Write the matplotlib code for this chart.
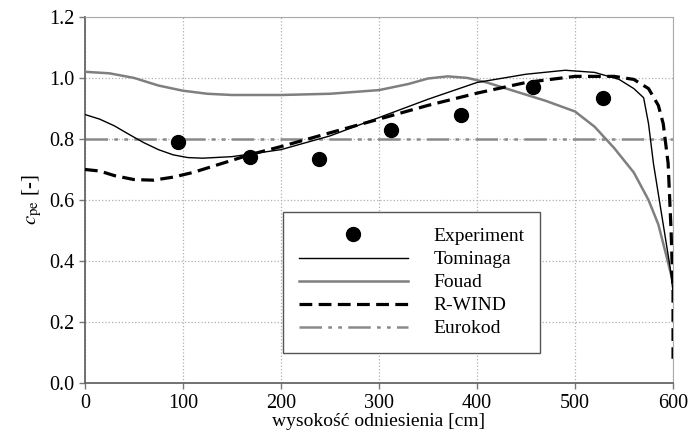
import matplotlib
matplotlib.use("Agg")
import matplotlib.pyplot as plt

plt.rcParams["font.family"] = ["Liberation Serif", "DejaVu Serif"]
plt.rcParams["mathtext.fontset"] = "stix"

# Experiment points
exp_x = [95, 168, 239, 312, 384, 457, 529]
exp_y = [0.79, 0.74, 0.735, 0.83, 0.88, 0.97, 0.935]

# Tominaga
tom_x = [0, 15, 30, 45, 60, 75, 90, 105, 120, 150, 200, 250, 300, 350, 400, 450, 490, 520, 545, 560, 570, 575, 580, 590, 597, 600]
tom_y = [0.88, 0.865, 0.843, 0.815, 0.788, 0.765, 0.748, 0.739, 0.737, 0.742, 0.765, 0.81, 0.87, 0.93, 0.985, 1.012, 1.025, 1.018, 0.995, 0.965, 0.935, 0.85, 0.72, 0.52, 0.38, 0.3]

# Fouad
fou_x = [0, 25, 50, 75, 100, 125, 150, 200, 250, 300, 330, 350, 370, 390, 410, 440, 470, 500, 520, 540, 560, 575, 585, 593, 600]
fou_y = [1.02, 1.015, 1.0, 0.975, 0.958, 0.948, 0.944, 0.944, 0.948, 0.96, 0.98, 0.998, 1.005, 1.0, 0.985, 0.955, 0.925, 0.89, 0.84, 0.77, 0.69, 0.6, 0.52, 0.42, 0.33]

# R-WIND
rw_x = [0, 15, 30, 50, 70, 90, 110, 140, 170, 200, 250, 300, 350, 400, 450, 500, 540, 560, 575, 585, 590, 595, 598, 600, 600]
rw_y = [0.70, 0.695, 0.68, 0.667, 0.665, 0.675, 0.69, 0.72, 0.75, 0.775, 0.82, 0.865, 0.91, 0.95, 0.985, 1.005, 1.005, 0.995, 0.965, 0.91, 0.85, 0.72, 0.5, 0.3, 0.08]

# Eurokod
eu_x = [0, 600]
eu_y = [0.8, 0.8]

fig = plt.figure(figsize=(6.96, 4.43), dpi=100)
ax = fig.add_axes([0.122, 0.135, 0.845, 0.827])

ax.plot(eu_x, eu_y, color="#8a8a8a", lw=1.8, dashes=[9, 2.5, 1.5, 2.5, 1.5, 2.5], label="Eurokod", zorder=2)
ax.plot(fou_x, fou_y, color="#7f7f7f", lw=1.8, label="Fouad", zorder=3)
ax.plot(tom_x, tom_y, color="black", lw=1.0, label="Tominaga", zorder=4)
ax.plot(rw_x, rw_y, color="black", lw=2.3, dashes=[4, 2], label="R-WIND", zorder=5)
ax.plot(exp_x, exp_y, "o", color="black", ms=10, ls="none", label="Experiment", zorder=6)

ax.set_xlim(0, 600)
ax.set_ylim(0, 1.2)
ax.set_xticks(range(0, 601, 100))
ax.set_yticks([0.0, 0.2, 0.4, 0.6, 0.8, 1.0, 1.2])
ax.set_yticklabels([f"{v:.1f}" for v in ax.get_yticks()])
ax.grid(True, ls=":", color="#b0b0b0", lw=0.9)
ax.set_axisbelow(True)
ax.tick_params(labelsize=14.5, length=4, color="#777777", width=1)

for s in ["top", "right"]:
    ax.spines[s].set_color("#aaaaaa")
for s in ["left", "bottom"]:
    ax.spines[s].set_color("#666666")
    ax.spines[s].set_linewidth(1.3)

ax.set_xlabel("wysokość odniesienia [cm]", fontsize=14, labelpad=0.5)
ax.set_ylabel(r"$c_{\rm pe}$ [-]", fontsize=15, labelpad=4)

h, l = ax.get_legend_handles_labels()
order = ["Experiment", "Tominaga", "Fouad", "R-WIND", "Eurokod"]
hh = [h[l.index(n)] for n in order]
leg = ax.legend(hh, order, loc="upper left", bbox_to_anchor=(0.337, 0.467),
                borderaxespad=0, fontsize=14, handlelength=5.6, handletextpad=1.35,
                labelspacing=0.28, borderpad=0.8, frameon=True, fancybox=False,
                edgecolor="#555555", framealpha=1)
leg.get_frame().set_linewidth(1.0)

fig.savefig("out.png", dpi=100)
